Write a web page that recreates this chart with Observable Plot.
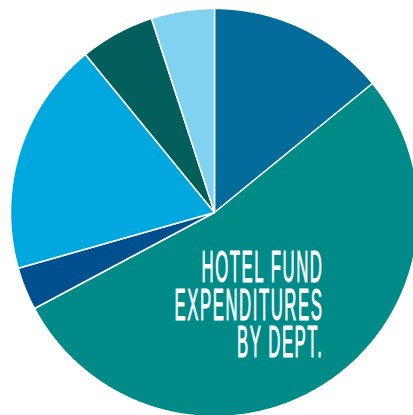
<!DOCTYPE html>
<html><head><meta charset="utf-8">
<script src="https://cdn.jsdelivr.net/npm/d3@7"></script>
<script src="https://cdn.jsdelivr.net/npm/@observablehq/plot@0.6"></script>
<style>html,body{margin:0;padding:0;background:#fff;overflow:hidden}</style>
</head><body><div id="chart"></div>
<script>
// Departments in clockwise order starting at 12 o'clock
const departments = ["Dept 1", "Dept 2", "Dept 3", "Dept 4", "Dept 5", "Dept 6"];
const shares = [14.1, 53.1, 3.4, 18.5, 5.9, 5.0];
const colors = ["#036c9a", "#008a88", "#00508f", "#00a8df", "#035f5c", "#80d2f0"];
const labelLines = ["HOTEL FUND", "EXPENDITURES", "BY DEPT."];

const arcs = d3.pie().sort(null).value(d => d)(shares);
const points = [];
arcs.forEach((a, i) => {
  const dept = departments[i];
  points.push({dept, x: 0, y: 0});
  const n = Math.max(2, Math.ceil((a.endAngle - a.startAngle) / 0.005));
  for (let k = 0; k <= n; k++) {
    const t = a.startAngle + (a.endAngle - a.startAngle) * k / n;
    points.push({dept, x: Math.sin(t), y: Math.cos(t)});
  }
});

// label block: right edge, last baseline, width (in the chart's unit coordinates)
const labelX = 0.534, labelYLast = -0.709, labelWidth = 0.73;
const fontSize = 37, sy = 1.22, lineHeight = 0.83;
const label = [{text: labelLines.join("\n"), x: labelX, y: labelYLast}];

const chart = Plot.plot({
  width: 413, height: 415,
  margin: 0,
  x: {domain: [-1, 1], range: [10, 418], axis: null},
  y: {domain: [-1, 1], range: [416, 8], axis: null},
  color: {domain: departments, range: colors},
  marks: [
    Plot.line(points, {x: "x", y: "y", z: "dept", fill: "dept", stroke: "white", strokeWidth: 1.5, curve: "linear-closed", strokeLinejoin: "miter"}),
    Plot.text(label, {x: "x", y: "y", text: "text", textAnchor: "end", lineAnchor: "bottom", lineHeight, fill: "white",
      fontSize, fontFamily: "'Liberation Sans Narrow', 'Liberation Sans', sans-serif", fontWeight: "normal",
      stroke: "white", strokeWidth: 0.8})
  ]
});
document.getElementById("chart").appendChild(chart);

// condense the label text around its right-aligned baseline anchor
const xs = chart.scale("x");
const target = xs.apply(labelX) - xs.apply(labelX - labelWidth);
d3.select(chart).selectAll("g[aria-label='text'] text").each(function() {
  this.style.letterSpacing = "0.09em";
  let maxLen = 0;
  const spans = this.querySelectorAll("tspan");
  (spans.length ? Array.from(spans) : [this]).forEach(s => { maxLen = Math.max(maxLen, s.getComputedTextLength()); });
  const sx = target / maxLen;
  const tr = this.getAttribute("transform");
  if (tr) {
    this.setAttribute("transform", tr + ` scale(${sx},${sy})`);
  } else {
    const x = +this.getAttribute("x") || 0, y = +this.getAttribute("y") || 0;
    this.setAttribute("transform", `translate(${x},${y}) scale(${sx},${sy}) translate(${-x},${-y})`);
  }
});
</script>
</body></html>
